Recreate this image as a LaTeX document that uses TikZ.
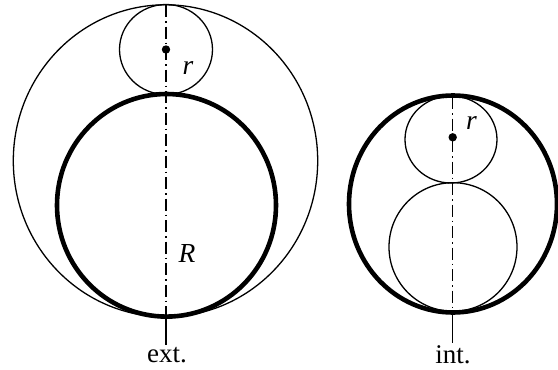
\documentclass[tikz,border=0pt]{standalone}
\usepackage{fontspec}
\setmainfont{Liberation Serif}
\begin{document}
\begin{tikzpicture}[x=1pt,y=-1pt,
  thin line/.style={line width=1.3pt},
  thick line/.style={line width=4.6pt},
  axis line/.style={line width=1.3pt,dash pattern=on 12pt off 4pt on 1.5pt off 4pt},
  lbl/.style={font=\fontsize{27}{29}\selectfont,inner sep=0pt},
  ilbl/.style={font=\fontsize{27.5}{29}\selectfont\itshape,inner sep=0pt}]
\useasboundingbox (0,0) rectangle (558,370);
% ---------- left figure (ext.)
\coordinate (bigC) at (165.5,160.8);
\coordinate (smlC) at (166,49.5);
\coordinate (thkC) at (166.5,205.3);
\draw[thin line] (bigC) ellipse [x radius=152.2, y radius=156];
\draw[thin line] (smlC) ellipse [x radius=46.5, y radius=45];
\draw[thick line] (thkC) ellipse [x radius=109.5, y radius=111.3];
\coordinate (lTop) at (166,5);
\coordinate (lBot) at (166,316);
\coordinate (lEnd) at (166,345);
\draw[axis line] (lTop) -- (lBot);
\draw[thin line] (lBot) -- (lEnd);
\fill (smlC) circle (4.2);
\node[ilbl] (lr) at (188,68) {r};
\node[ilbl] (lR) at (187,253) {R};
\node[lbl] (ext) at (167,355) {ext.};
% ---------- right figure (int.)
\coordinate (rThkC) at (453,204);
\coordinate (rSmlC) at (451,139.5);
\coordinate (rLowC) at (453,247);
\coordinate (rDot) at (452.7,137.3);
\draw[thick line] (rThkC) ellipse [x radius=104, y radius=108.5];
\draw[thin line] (rSmlC) ellipse [x radius=46, y radius=43.5];
\draw[thin line] (rLowC) ellipse [x radius=64, y radius=64.3];
\coordinate (rTop) at (452.7,97);
\coordinate (rBot) at (452.7,313);
\coordinate (rEnd) at (452.7,343);
\draw[axis line] (rTop) -- (rBot);
\draw[thin line] (rBot) -- (rEnd);
\fill (rDot) circle (4.2);
\node[ilbl] (rr) at (471.5,123) {r};
\node[lbl] (int) at (453,355) {int.};
\end{tikzpicture}
\end{document}
